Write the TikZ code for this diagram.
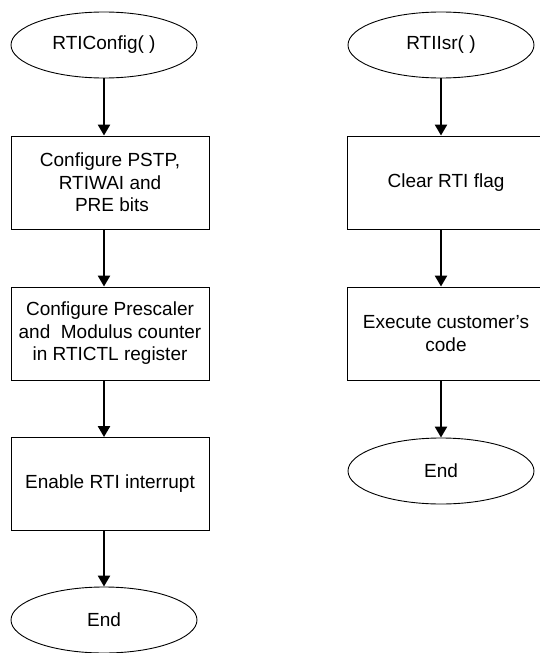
\documentclass[tikz,border=0pt]{standalone}
\usepackage{fontspec}
\setmainfont{Liberation Sans}
\usetikzlibrary{shapes.geometric,arrows.meta}
\begin{document}
\begin{tikzpicture}[x=1pt,y=-1pt,
  term/.style={ellipse,draw,line width=0.9pt,minimum width=186pt,minimum height=66pt,inner sep=0pt,
    font=\fontsize{19}{22}\selectfont},
  procbox/.style={rectangle,draw,line width=0.9pt,minimum width=198pt,minimum height=93pt,inner sep=0pt,
    align=center,font=\fontsize{19}{22.5}\selectfont},
  arr/.style={line width=2.4pt,-{Triangle[width=12pt,length=11pt]}}]
\clip (0,0) rectangle (540,653);
\fill[white] (0,0) rectangle (540,653);
% left column
\node[term] (e1) at (104,45) {RTIConfig( )};
\node[procbox] (b1) at (110,182.5) {Configure PSTP,\\RTIWAI and\\\hspace{4pt}PRE bits};
\node[procbox] (b2) at (110,333.5) {Configure Prescaler\\and\ \ Modulus counter\\in RTICTL register};
\node[procbox] (b3) at (110,484) {Enable RTI interrupt};
\node[term] (e2) at (104,620) {End};
\draw[arr] (e1.south) -- (e1.south |- b1.north);
\draw[arr] (e1.south |- b1.south) -- (e1.south |- b2.north);
\draw[arr] (e1.south |- b2.south) -- (e1.south |- b3.north);
\draw[arr] (e1.south |- b3.south) -- (e2.north);
% right column
\node[term] (r1) at (441,45) {RTIIsr( )};
\node[procbox] (rb1) at (446,182.5) {Clear RTI flag};
\node[procbox] (rb2) at (446,333.5) {Execute customer’s\\code};
\node[term] (r2) at (441,471) {End};
\draw[arr] (r1.south) -- (r1.south |- rb1.north);
\draw[arr] (r1.south |- rb1.south) -- (r1.south |- rb2.north);
\draw[arr] (r1.south |- rb2.south) -- (r2.north);
\end{tikzpicture}
\end{document}
